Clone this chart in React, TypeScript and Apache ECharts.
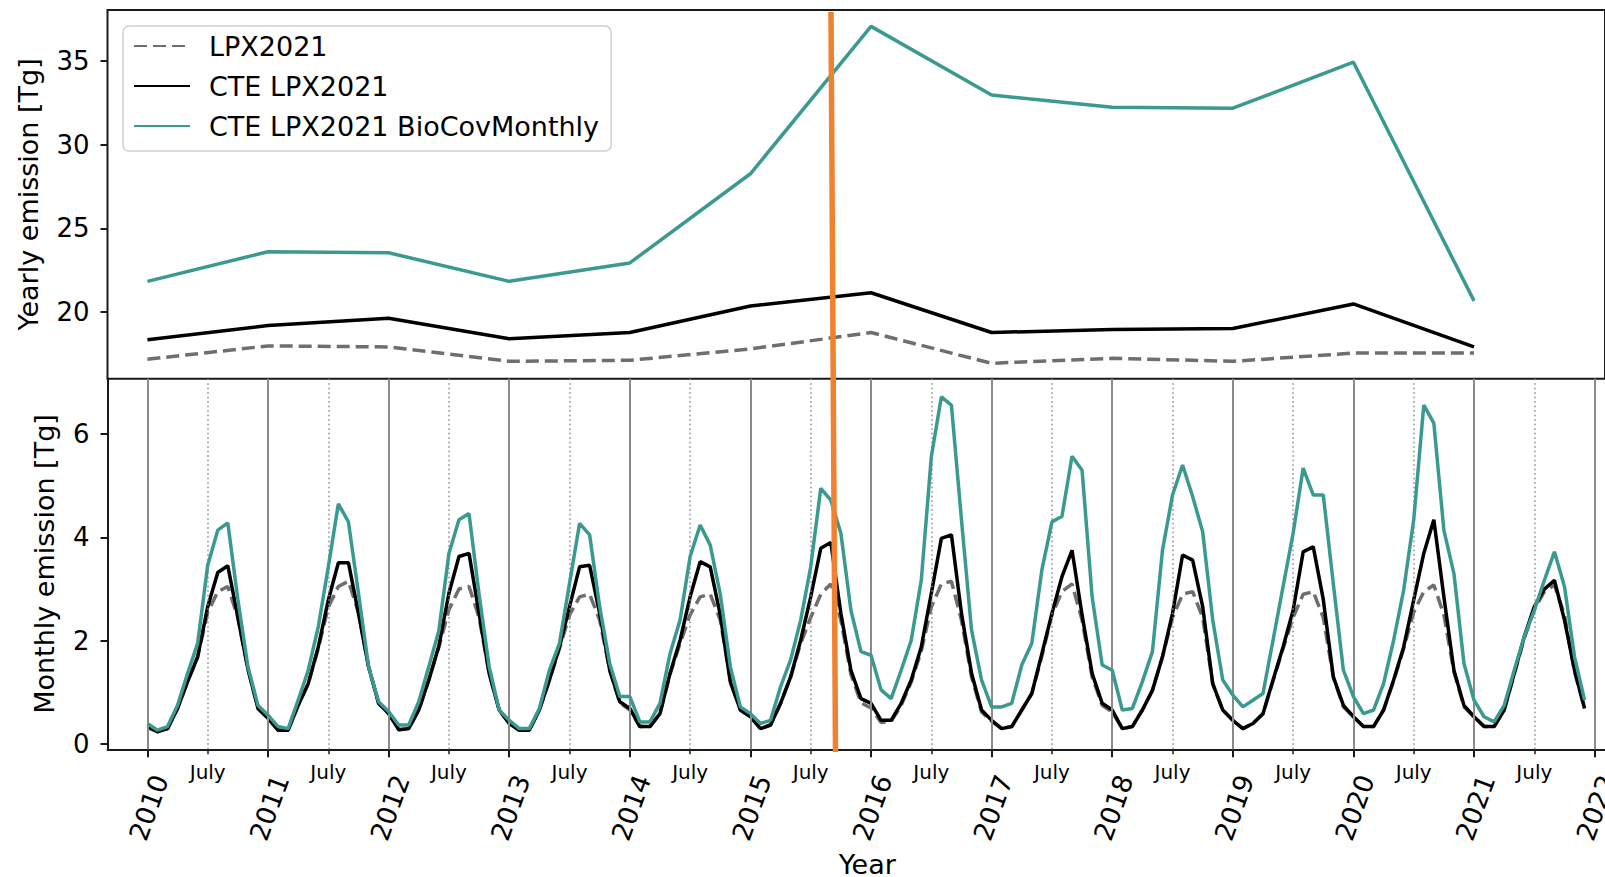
import React, { useEffect, useRef } from "react";
import * as echarts from "echarts";

// ---------- DATA ----------
const YEARS = [2010, 2011, 2012, 2013, 2014, 2015, 2016, 2017, 2018, 2019, 2020, 2021];

// Yearly emission [Tg]
const YEARLY_LPX2021 = [17.18, 17.98, 17.92, 17.06, 17.12, 17.8, 18.78, 16.94, 17.24, 17.06, 17.55, 17.55];
const YEARLY_CTE_LPX2021 = [18.35, 19.2, 19.63, 18.41, 18.78, 20.37, 21.16, 18.78, 18.96, 19.02, 20.49, 17.92];
const YEARLY_CTE_BIOCOV = [21.84, 23.61, 23.55, 21.84, 22.94, 28.27, 37.08, 32.98, 32.25, 32.19, 34.94, 20.67];

// Monthly emission [Tg], Jan..Dec for each year 2010..2021
const MONTHLY_LPX2021 = [
  0.32, 0.24, 0.3, 0.69, 1.21, 1.69, 2.55, 2.95, 3.05, 2.45, 1.45, 0.69,
  0.5, 0.27, 0.27, 0.75, 1.17, 1.85, 2.65, 3.05, 3.15, 2.55, 1.5, 0.79,
  0.59, 0.28, 0.3, 0.66, 1.24, 1.88, 2.6, 3.0, 3.05, 2.45, 1.37, 0.66,
  0.4, 0.27, 0.27, 0.66, 1.24, 1.85, 2.5, 2.85, 2.9, 2.4, 1.43, 0.8,
  0.66, 0.34, 0.34, 0.59, 1.35, 1.95, 2.5, 2.85, 2.9, 2.4, 1.24, 0.66,
  0.53, 0.3, 0.37, 0.79, 1.3, 1.95, 2.45, 2.9, 3.1, 2.4, 1.35, 0.8,
  0.7, 0.42, 0.44, 0.75, 1.2, 1.8, 2.65, 3.1, 3.15, 2.4, 1.3, 0.62,
  0.44, 0.3, 0.34, 0.66, 0.98, 1.7, 2.5, 2.95, 3.1, 2.4, 1.3, 0.75,
  0.62, 0.3, 0.34, 0.66, 1.04, 1.69, 2.45, 2.9, 2.95, 2.45, 1.17, 0.66,
  0.46, 0.3, 0.4, 0.59, 1.22, 1.85, 2.45, 2.9, 2.95, 2.45, 1.3, 0.72,
  0.53, 0.34, 0.34, 0.66, 1.22, 1.85, 2.55, 2.95, 3.08, 2.5, 1.4, 0.72,
  0.53, 0.34, 0.34, 0.66, 1.35, 2.05, 2.6, 2.95, 3.08, 2.5, 1.4, 0.69,
];
const MONTHLY_CTE_LPX2021 = [
  0.34, 0.24, 0.3, 0.69, 1.21, 1.69, 2.66, 3.32, 3.45, 2.45, 1.45, 0.69,
  0.5, 0.27, 0.27, 0.75, 1.17, 1.88, 2.79, 3.51, 3.51, 2.53, 1.5, 0.79,
  0.59, 0.28, 0.3, 0.66, 1.24, 1.9, 2.92, 3.63, 3.69, 2.53, 1.37, 0.66,
  0.4, 0.27, 0.27, 0.66, 1.24, 1.88, 2.66, 3.43, 3.46, 2.53, 1.43, 0.82,
  0.69, 0.34, 0.34, 0.59, 1.37, 2.01, 2.85, 3.53, 3.43, 2.5, 1.2, 0.66,
  0.53, 0.3, 0.37, 0.79, 1.3, 2.01, 2.85, 3.79, 3.9, 2.53, 1.43, 0.88,
  0.79, 0.46, 0.46, 0.79, 1.24, 1.88, 2.92, 3.98, 4.05, 2.53, 1.37, 0.66,
  0.46, 0.3, 0.34, 0.66, 0.98, 1.75, 2.53, 3.24, 3.75, 2.5, 1.37, 0.79,
  0.66, 0.3, 0.34, 0.66, 1.04, 1.69, 2.53, 3.66, 3.56, 2.66, 1.17, 0.66,
  0.46, 0.3, 0.4, 0.59, 1.24, 1.88, 2.59, 3.72, 3.82, 2.8, 1.3, 0.75,
  0.53, 0.34, 0.34, 0.66, 1.24, 1.88, 2.79, 3.69, 4.34, 2.85, 1.43, 0.75,
  0.53, 0.34, 0.34, 0.66, 1.37, 2.08, 2.66, 3.0, 3.17, 2.4, 1.43, 0.69,
];
const MONTHLY_CTE_BIOCOV = [
  0.4, 0.27, 0.34, 0.75, 1.37, 1.95, 3.46, 4.14, 4.28, 2.8, 1.5, 0.75,
  0.56, 0.34, 0.3, 0.85, 1.43, 2.27, 3.43, 4.65, 4.3, 2.92, 1.5, 0.82,
  0.63, 0.37, 0.37, 0.82, 1.5, 2.2, 3.69, 4.34, 4.46, 2.9, 1.5, 0.66,
  0.46, 0.3, 0.3, 0.69, 1.43, 1.95, 3.11, 4.27, 4.05, 2.66, 1.56, 0.92,
  0.92, 0.43, 0.43, 0.79, 1.75, 2.4, 3.63, 4.24, 3.85, 2.9, 1.5, 0.72,
  0.59, 0.4, 0.46, 1.11, 1.63, 2.4, 3.43, 4.95, 4.72, 4.08, 2.59, 1.79,
  1.72, 1.05, 0.88, 1.43, 2.01, 3.17, 5.56, 6.72, 6.56, 4.34, 2.21, 1.24,
  0.72, 0.72, 0.79, 1.53, 1.95, 3.37, 4.3, 4.41, 5.57, 5.3, 2.85, 1.53,
  1.43, 0.66, 0.69, 1.21, 1.79, 3.75, 4.82, 5.4, 4.79, 4.11, 2.4, 1.24,
  0.95, 0.72, 0.85, 0.98, 2.01, 3.05, 4.08, 5.34, 4.82, 4.82, 3.1, 1.43,
  0.92, 0.59, 0.66, 1.17, 2.01, 2.98, 4.34, 6.56, 6.21, 4.14, 3.3, 1.56,
  0.85, 0.53, 0.43, 0.75, 1.43, 2.08, 2.59, 3.17, 3.72, 3.05, 1.69, 0.85,
];

const YEAR_TICKS = [2010, 2011, 2012, 2013, 2014, 2015, 2016, 2017, 2018, 2019, 2020, 2021, 2022];
const JULY_TICKS = YEAR_TICKS.slice(0, 12).map((y) => y + 6 / 12);
const YEARLY_TICKS = [20, 25, 30, 35];
const MONTHLY_TICKS = [0, 2, 4, 6];

const SERIES_NAMES = ["LPX2021", "CTE LPX2021", "CTE LPX2021 BioCovMonthly"];

// ---------- STYLE ----------
const FONT = "DejaVu Sans";
const TEAL = "#3a9a90";
const GREY = "#6e6e6e";
const BLACK = "#000000";
const SPINE = "#1a1a1a";
const ORANGE = "#f08131";

const X_MIN = 2009.669;
const X_MAX = 2022.086;

const monthX = (i: number) => YEARS[Math.floor(i / 12)] + (i % 12) / 12;

export default function App() {
  const ref = useRef<HTMLDivElement>(null);

  useEffect(() => {
    if (!ref.current) return;
    const chart = echarts.init(ref.current, undefined, { renderer: "svg" });

    const styles = [
      { color: GREY, type: [13, 6] as any },
      { color: BLACK, type: "solid" as any },
      { color: TEAL, type: "solid" as any },
    ];
    const yearly = [YEARLY_LPX2021, YEARLY_CTE_LPX2021, YEARLY_CTE_BIOCOV];
    const monthly = [MONTHLY_LPX2021, MONTHLY_CTE_LPX2021, MONTHLY_CTE_BIOCOV];

    const lineSeries = (idx: number, axis: number, data: number[][]) => ({
      type: "line",
      name: SERIES_NAMES[idx],
      xAxisIndex: axis,
      yAxisIndex: axis,
      data,
      symbol: "none",
      z: 3 + idx,
      lineStyle: { width: 3.5, color: styles[idx].color, type: styles[idx].type },
      itemStyle: { color: styles[idx].color },
    });

    const topSeries = yearly.map((arr, idx) =>
      lineSeries(idx, 0, YEARS.map((y, i) => [y, arr[i]]))
    );
    const bottomSeries = monthly.map((arr, idx) =>
      lineSeries(idx, 1, arr.map((v, i) => [monthX(i), v]))
    );

    const gridSeries = [
      {
        type: "line",
        xAxisIndex: 1,
        yAxisIndex: 1,
        data: [],
        z: 1,
        silent: true,
        markLine: {
          silent: true,
          symbol: ["none", "none"],
          label: { show: false },
          lineStyle: { color: "#8a8a8a", width: 2, type: "solid" },
          data: YEAR_TICKS.map((x) => ({ xAxis: x })),
        },
      },
      {
        type: "line",
        xAxisIndex: 1,
        yAxisIndex: 1,
        data: [],
        z: 1,
        silent: true,
        markLine: {
          silent: true,
          symbol: ["none", "none"],
          label: { show: false },
          lineStyle: { color: "#8a8a8a", width: 1.5, type: [1.5, 3] },
          data: JULY_TICKS.map((x) => ({ xAxis: x })),
        },
      },
    ];

    chart.setOption({
      animation: false,
      textStyle: { fontFamily: FONT, color: "#000" },
      legend: {
        data: SERIES_NAMES,
        orient: "vertical",
        left: 123,
        top: 26,
        padding: [5, 12, 10, 10],
        itemWidth: 56,
        itemHeight: 14,
        itemGap: 10,
        itemStyle: { opacity: 0 },
        backgroundColor: "rgba(255,255,255,0.85)",
        borderColor: "#d0d0d0",
        borderWidth: 1.5,
        borderRadius: 6,
        textStyle: {
          fontFamily: FONT,
          fontSize: 27,
          color: "#000",
          lineHeight: 30,
          padding: [0, 0, 0, 14],
        },
      },
      grid: [
        {
          left: 107.5,
          top: 10,
          width: 1497.5,
          height: 368.7,
          show: true,
          borderColor: SPINE,
          borderWidth: 2,
          backgroundColor: "transparent",
          outerBoundsMode: "none",
          containLabel: false,
        },
        {
          left: 107.5,
          top: 378.7,
          width: 1497.5,
          height: 370.6,
          show: false,
          outerBoundsMode: "none",
          containLabel: false,
        },
      ],
      xAxis: [
        {
          type: "value",
          gridIndex: 0,
          min: X_MIN,
          max: X_MAX,
          axisLine: { show: false },
          axisTick: { show: false },
          axisLabel: { show: false },
          splitLine: { show: false },
        },
        {
          type: "value",
          gridIndex: 1,
          min: X_MIN,
          max: X_MAX,
          position: "bottom",
          name: "Year",
          nameLocation: "middle",
          nameGap: 102,
          nameTextStyle: {
            fontFamily: FONT,
            fontSize: 27,
            color: "#000",
            padding: [0, 0, 0, 22],
          },
          axisLine: { show: true, onZero: false, lineStyle: { color: SPINE, width: 2 } },
          axisTick: {
            show: true,
            length: 8,
            customValues: YEAR_TICKS,
            lineStyle: { color: SPINE, width: 2 },
          },
          axisLabel: {
            show: true,
            customValues: YEAR_TICKS,
            rotate: 70,
            align: "right",
            verticalAlign: "top",
            margin: 22,
            fontFamily: FONT,
            fontSize: 26.5,
            color: "#000",
            formatter: (v: number) => String(Math.round(v)),
          },
          splitLine: { show: false },
        },
        {
          type: "value",
          gridIndex: 1,
          min: X_MIN,
          max: X_MAX,
          position: "bottom",
          axisLine: { show: false, onZero: false },
          axisTick: {
            show: true,
            length: 5,
            customValues: JULY_TICKS,
            lineStyle: { color: SPINE, width: 1.5 },
          },
          axisLabel: {
            show: true,
            customValues: JULY_TICKS,
            margin: 13,
            fontFamily: FONT,
            fontSize: 20,
            color: "#000",
            formatter: () => "July",
          },
          splitLine: { show: false },
        },
      ],
      yAxis: [
        {
          type: "value",
          gridIndex: 0,
          min: 16.02,
          max: 38.06,
          name: "Yearly emission [Tg]",
          nameLocation: "middle",
          nameGap: 66,
          nameTextStyle: { fontFamily: FONT, fontSize: 27, color: "#000" },
          axisLine: { show: false, onZero: false },
          axisTick: {
            show: true,
            length: 7,
            customValues: YEARLY_TICKS,
            lineStyle: { color: SPINE, width: 2 },
          },
          axisLabel: {
            show: true,
            customValues: YEARLY_TICKS,
            margin: 18,
            fontFamily: FONT,
            fontSize: 26,
            color: "#000",
          },
          splitLine: { show: false },
        },
        {
          type: "value",
          gridIndex: 1,
          min: -0.1,
          max: 7.07,
          name: "Monthly emission [Tg]",
          nameLocation: "middle",
          nameGap: 50,
          nameTextStyle: { fontFamily: FONT, fontSize: 27, color: "#000" },
          axisLine: { show: true, onZero: false, lineStyle: { color: SPINE, width: 2 } },
          axisTick: {
            show: true,
            length: 7,
            customValues: MONTHLY_TICKS,
            lineStyle: { color: SPINE, width: 2 },
          },
          axisLabel: {
            show: true,
            customValues: MONTHLY_TICKS,
            margin: 18,
            fontFamily: FONT,
            fontSize: 26,
            color: "#000",
          },
          splitLine: { show: false },
        },
      ],
      graphic: [
        {
          type: "line",
          z: 100,
          shape: { x1: 831, y1: 12, x2: 835.5, y2: 752 },
          style: { stroke: ORANGE, lineWidth: 5.5 },
        },
      ],
      series: [...gridSeries, ...topSeries, ...bottomSeries],
    } as any);

    return () => chart.dispose();
  }, []);

  return (
    <div
      ref={ref}
      style={{ position: "fixed", left: 0, top: 0, width: 1605, height: 877, background: "#fff" }}
    />
  );
}
